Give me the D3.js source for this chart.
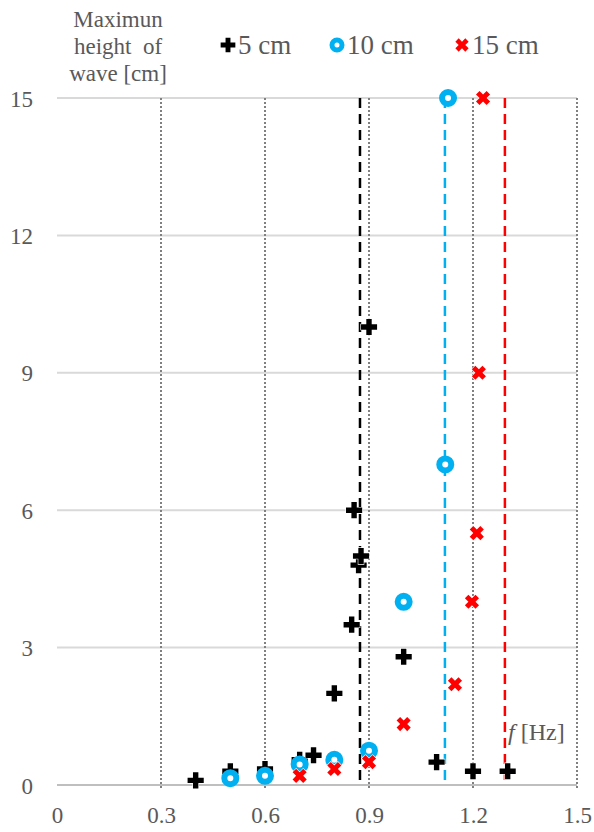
<!DOCTYPE html>
<html>
<head>
<meta charset="utf-8">
<script src="https://cdn.jsdelivr.net/npm/d3@7"></script>
<style>
  html, body { margin: 0; padding: 0; background: #fff; }
  svg { display: block; }
</style>
</head>
<body>
<svg id="chart" width="594" height="832"></svg>
<script>
// Frequency [Hz] and maximum wave height [cm] for each water depth
const freq5 = [0.4, 0.5, 0.6, 0.7, 0.74, 0.8, 0.85, 0.87, 0.877, 0.857, 0.9, 1.0, 1.095, 1.2, 1.3];
const height5 = [0.1, 0.3, 0.35, 0.55, 0.65, 2.0, 3.5, 4.8, 5.0, 6.0, 10.0, 2.8, 0.5, 0.3, 0.3];

const freq10 = [0.5, 0.6, 0.7, 0.8, 0.9, 1.0, 1.12, 1.128];
const height10 = [0.15, 0.2, 0.45, 0.55, 0.75, 4.0, 7.0, 15.0];

const freq15 = [0.7, 0.8, 0.9, 1.0, 1.148, 1.197, 1.211, 1.217, 1.229];
const height15 = [0.2, 0.35, 0.5, 1.33, 2.2, 4.0, 5.5, 9.0, 15.0];

// Resonance frequency of each depth (dashed lines)
const resonanceDepths = ["5 cm", "10 cm", "15 cm"];
const resonanceFreq = [0.874, 1.119, 1.292];

const xTicks = [0, 0.3, 0.6, 0.9, 1.2, 1.5];
const yTicks = [0, 3, 6, 9, 12, 15];
const seriesNames = ["5 cm", "10 cm", "15 cm"];

const colors = { "5 cm": "#000000", "10 cm": "#00B0F0", "15 cm": "#FF0000" };
const serif = "'Liberation Serif'";
const textColor = "#595959";

const svg = d3.select("#chart");
const plot = { left: 57, right: 577, top: 98, bottom: 785 };

const x = d3.scaleLinear().domain([0, 1.5]).range([plot.left, plot.right]);
const y = d3.scaleLinear().domain([0, 15]).range([plot.bottom, plot.top]);

// Horizontal gridlines
svg.append("g").selectAll("line")
  .data(yTicks.filter(d => d > 0))
  .join("line")
  .attr("x1", plot.left).attr("x2", plot.right)
  .attr("y1", d => y(d)).attr("y2", d => y(d))
  .attr("stroke", "#d9d9d9").attr("stroke-width", 2);

// Vertical dotted gridlines
svg.append("g").selectAll("line")
  .data(xTicks.filter(d => d > 0))
  .join("line")
  .attr("x1", d => x(d)).attr("x2", d => x(d))
  .attr("y1", plot.top).attr("y2", plot.bottom + 5)
  .attr("stroke", "#808080").attr("stroke-width", 2)
  .attr("stroke-dasharray", "2,2");

// Bottom axis line
svg.append("line")
  .attr("x1", plot.left).attr("x2", plot.right)
  .attr("y1", plot.bottom).attr("y2", plot.bottom)
  .attr("stroke", "#bfbfbf").attr("stroke-width", 2);

// X axis labels
const xAxis = d3.axisBottom(x).tickValues(xTicks).tickSize(0).tickPadding(0)
  .tickFormat(d => d === 0 ? "0" : d3.format(".1f")(d));
const gx = svg.append("g").attr("transform", `translate(0,${plot.bottom})`).call(xAxis)
  .attr("font-family", serif).attr("font-size", 23);
gx.select(".domain").remove();
gx.selectAll("text")
  .attr("y", 38).attr("dy", 0)
  .attr("fill", textColor);

// Y axis labels
const yAxis = d3.axisLeft(y).tickValues(yTicks).tickSize(0).tickPadding(0);
const gy = svg.append("g").attr("transform", `translate(33,0)`).call(yAxis)
  .attr("font-family", serif).attr("font-size", 23);
gy.select(".domain").remove();
gy.selectAll("text")
  .attr("x", 0).attr("dy", "0.35em")
  .attr("fill", textColor);

// Resonance dashed lines
svg.append("g").selectAll("line")
  .data(resonanceFreq)
  .join("line")
  .attr("x1", d => x(d)).attr("x2", d => x(d))
  .attr("y1", plot.top).attr("y2", plot.bottom)
  .attr("stroke", (d, i) => colors[resonanceDepths[i]])
  .attr("stroke-width", 2.5)
  .attr("stroke-dasharray", "10,6");

// Markers
const plusPath = d3.symbol().type(d3.symbolCross).size(145)();
const xPath = d3.symbol().type(d3.symbolCross).size(125)();

const s5 = freq5.map((f, i) => ({ f, h: height5[i] }));
const s10 = freq10.map((f, i) => ({ f, h: height10[i] }));
const s15 = freq15.map((f, i) => ({ f, h: height15[i] }));

svg.append("g").selectAll("path")
  .data(s5).join("path")
  .attr("d", plusPath)
  .attr("transform", d => `translate(${x(d.f)},${y(d.h)})`)
  .attr("fill", colors["5 cm"])
  .attr("stroke", "#fff").attr("stroke-width", 1.2).attr("paint-order", "stroke");

svg.append("g").selectAll("circle")
  .data(s10).join("circle")
  .attr("cx", d => x(d.f)).attr("cy", d => y(d.h))
  .attr("r", 6)
  .attr("fill", "#fff")
  .attr("stroke", colors["10 cm"]).attr("stroke-width", 6);

svg.append("g").selectAll("path")
  .data(s15).join("path")
  .attr("d", xPath)
  .attr("transform", d => `translate(${x(d.f)},${y(d.h)}) rotate(45)`)
  .attr("fill", colors["15 cm"])
  .attr("stroke", "#fff").attr("stroke-width", 1.2).attr("paint-order", "stroke");

// Y axis title
const yTitle = ["Maximun", "height\u00a0\u00a0of", "wave [cm]"];
svg.append("g").selectAll("text")
  .data(yTitle).join("text")
  .attr("x", 118).attr("y", (d, i) => 27 + i * 27)
  .attr("text-anchor", "middle")
  .attr("font-family", serif)
  .attr("font-size", 23)
  .attr("fill", textColor)
  .text(d => d);

// Legend
const legendX = [228, 337, 462];
const legend = svg.append("g");
seriesNames.forEach((name, i) => {
  const cx = legendX[i], cy = 45;
  if (i === 0) {
    legend.append("path").attr("d", d3.symbol().type(d3.symbolCross).size(120)())
      .attr("transform", `translate(${cx},${cy})`).attr("fill", colors[name]);
  } else if (i === 1) {
    legend.append("circle").attr("cx", cx).attr("cy", cy).attr("r", 5)
      .attr("fill", "#fff").attr("stroke", colors[name]).attr("stroke-width", 5);
  } else {
    legend.append("path").attr("d", d3.symbol().type(d3.symbolCross).size(110)())
      .attr("transform", `translate(${cx},${cy}) rotate(45)`).attr("fill", colors[name]);
  }
  legend.append("text")
    .attr("x", cx + 10).attr("y", cy + 9)
    .attr("font-family", serif)
    .attr("font-size", 27)
    .attr("fill", textColor)
    .text(name);
});

// X axis title
const xTitle = svg.append("text").attr("x", 508).attr("y", 740)
  .attr("font-family", serif).attr("font-size", 24).attr("fill", textColor);
xTitle.append("tspan").attr("font-style", "italic").text("f");
xTitle.append("tspan").text(" [Hz]");
</script>
</body>
</html>
